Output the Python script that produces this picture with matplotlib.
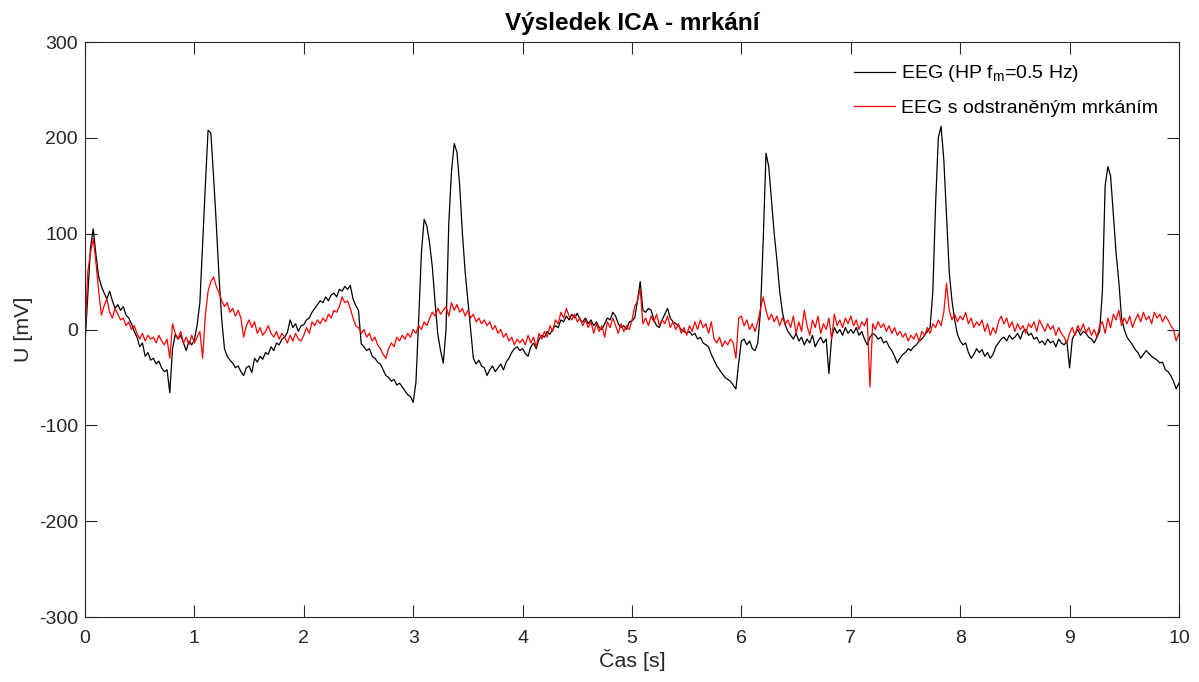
import numpy as np
import matplotlib
matplotlib.use("Agg")
import matplotlib.pyplot as plt

plt.rcParams['font.family'] = ['Liberation Sans', 'DejaVu Sans']
plt.rcParams['axes.unicode_minus'] = False

# časová osa: 0 .. 10 s, krok 25 ms
dt = 0.025
t = np.arange(401) * dt

# EEG po horní propusti (0.5 Hz), po 0.5 s na řádek
eeg_hp = [
    -15, 35, 85, 105, 78, 55, 45, 38, 32, 40, 30, 22, 26, 20, 24, 15, 12, 6, -2, -8,
    -18, -14, -28, -24, -32, -30, -36, -33, -40, -44, -42, -66, -20, -5, -10, -6, -14, -22, -12, -16,
    -11, 5, 28, 90, 150, 208, 205, 160, 110, 55, 10, -20, -28, -32, -35, -40, -38, -44, -48, -40,
    -38, -45, -30, -34, -28, -31, -24, -26, -18, -22, -14, -16, -10, -8, -3, 10, 2, 6, -2, 4,
    5, 10, 12, 18, 22, 26, 30, 28, 34, 30, 36, 38, 34, 42, 40, 45, 42, 46, 32, 25,
    20, -15, -18, -22, -20, -28, -30, -34, -36, -42, -48, -50, -54, -52, -58, -56, -60, -64, -68, -70,
    -76, -55, 10, 80, 115, 108, 90, 65, 28, -5, -22, -35, 0, 110, 165, 194, 185, 150, 100, 60,
    30, 0, -30, -36, -32, -38, -40, -48, -42, -38, -44, -40, -36, -42, -34, -30, -24, -20, -18, -22,
    -20, -25, -28, -18, -14, -20, -10, -6, -8, -2, -5, 0, 4, 2, 10, 8, 14, 10, 16, 12,
    17, 10, 8, 12, 6, 10, 4, 8, 2, 0, 6, 12, 10, 18, 14, 6, 2, 4, 0, 8,
    9, 12, 30, 50, 20, 18, 22, 20, 10, 4, 2, 10, 16, 22, 12, 8, 6, 4, 0, -2,
    -4, -2, -6, -4, -10, -8, -14, -16, -18, -26, -32, -38, -42, -46, -50, -52, -54, -58, -62, -35,
    -12, -10, -16, -12, -20, -22, -14, 20, 95, 184, 170, 135, 100, 72, 40, 18, 5, -2, -6, -10,
    -4, -12, -8, -16, -10, -14, -6, -18, -12, -8, -14, -10, -46, -8, 2, -4, 0, -6, 2, -4,
    0, -4, 2, -6, -2, -10, -16, -8, -4, -6, -10, -8, -14, -12, -18, -22, -28, -35, -30, -26,
    -24, -20, -22, -18, -16, -12, -10, -6, -2, 2, 40, 130, 200, 212, 178, 120, 60, 30, 10, -5,
    -12, -16, -14, -24, -30, -26, -20, -24, -21, -28, -24, -30, -26, -18, -14, -10, -8, -12, -6, -10,
    -8, -4, -10, -2, 0, -6, -4, -10, -8, -14, -12, -16, -10, -14, -12, -18, -10, -14, -16, -12,
    -40, -10, -4, 0, -6, -2, -4, -8, -10, -14, -8, -2, 40, 150, 170, 160, 120, 80, 50, 12,
    0, -8, -12, -16, -21, -24, -30, -26, -22, -25, -28, -30, -32, -35, -34, -42, -44, -48, -54, -62,
    -56,
]

# EEG po odstranění mrkacích artefaktů (ICA)
eeg_ica = [
    -8, 60, 80, 95, 70, 40, 15, 25, 32, 18, 12, 22, 16, 10, 12, 4, 8, 0, 4, -4,
    -10, -4, -12, -6, -10, -8, -14, -6, -12, -16, -10, -30, 6, -4, -10, -2, -14, -8, -16, -6,
    -14, -8, -2, -30, 15, 40, 50, 55, 45, 38, 30, 24, 28, 18, 22, 14, 20, 12, -8, 4,
    10, 2, 8, -4, 2, -6, -2, 4, -4, -8, -2, -10, -4, -8, -14, -6, -12, -4, -10, -12,
    -6, 2, -4, 8, 4, 10, 6, 12, 8, 16, 12, 20, 18, 24, 34, 28, 30, 22, 12, 4,
    2, -4, 0, -8, -4, -12, -8, -16, -20, -26, -30, -20, -14, -18, -8, -12, -6, -10, -4, -8,
    0, -4, 4, 0, 8, 4, 12, 18, 14, 22, 16, 20, 24, 14, 28, 20, 26, 18, 22, 14,
    20, 12, 16, 8, 12, 6, 10, 4, 8, 0, 4, -4, 0, -8, -4, -12, -8, -16, -10, -14,
    -10, -16, -6, -14, -8, -18, -4, -10, -2, -8, 4, -2, 10, 6, 18, 12, 22, 14, 10, 16,
    8, 12, 4, 10, 2, 8, -4, 6, -2, 4, -8, 8, 2, 12, 4, -4, 6, -2, 4, 0,
    10, 24, 30, 42, 6, 12, 4, 14, 8, 16, 4, 10, 6, 14, 2, 8, 0, 6, -4, 2,
    -6, 4, -2, 8, 0, 10, 2, 6, -4, 8, -10, -14, -8, -18, -12, -16, -10, -14, -30, 12,
    14, 4, 10, 0, 6, -2, 8, 22, 34, 20, 10, 16, 8, 14, 4, 12, 6, 10, 2, 14,
    -4, 8, -2, 20, 4, -6, 10, 2, 14, -4, 6, 0, 12, -10, 16, 4, 10, 2, 12, 6,
    14, 4, 10, 0, 8, 4, 12, -60, 6, 0, 8, 2, 6, -2, 4, -4, 2, -6, -2, -8,
    -4, -12, -6, -10, -4, -12, -2, -6, 2, -4, 6, 2, 10, 4, 18, 48, 20, 10, 16, 8,
    14, 10, 18, 6, 12, 2, 8, 4, 10, -2, 6, -6, 2, -4, 8, 14, 6, 12, 2, 8,
    -2, 6, 0, 4, -4, 6, 2, 8, -2, 10, 4, -2, 6, 0, 4, -6, 2, -4, -8, -14,
    -4, 2, -6, 4, -2, 6, -4, 2, -6, 0, -8, 4, 8, -4, 12, 2, 16, 10, 20, 4,
    12, 6, 14, 2, 10, 16, 8, 18, 10, 14, 6, 18, 12, 16, 8, 14, 10, 4, 0, -12,
    -4,
]

fig = plt.figure(figsize=(11.99, 6.82), dpi=100)
ax = fig.add_axes([0.0709, 0.0953, 0.9124, 0.8431])

ax.plot(t, eeg_hp, color='black', linewidth=0.9, label='EEG (HP f$_\\mathregular{m}$=0.5 Hz)')
ax.plot(t, eeg_ica, color='red', linewidth=0.9, label='EEG s odstraněným mrkáním')

ax.set_xlim(0, 10)
ax.set_ylim(-300, 300)
ax.set_xticks(np.arange(0, 11, 1))
ax.set_yticks(np.arange(-300, 301, 100))

# rámeček a ticky dovnitř ze všech stran
edge = '#262626'
for s in ax.spines.values():
    s.set_color(edge)
    s.set_linewidth(0.8)
ax.tick_params(direction='in', length=8.5, width=0.8, top=True, right=True,
               colors=edge, labelsize=14, labelcolor=edge, pad=5)
ax.tick_params(axis='x', pad=9)

ax.set_xlabel('Čas [s]', fontsize=15.4, color=edge, labelpad=2)
ax.set_ylabel('U [mV]', fontsize=15.4, color=edge, labelpad=4)
ax.set_title('Výsledek ICA - mrkání', fontsize=17.5, fontweight='bold', pad=9)

leg = ax.legend(loc='upper right', frameon=False, fontsize=14, handlelength=2.1,
                handletextpad=0.3, labelspacing=0.75, borderaxespad=0.7)

fig.savefig('out.png', dpi=100)
